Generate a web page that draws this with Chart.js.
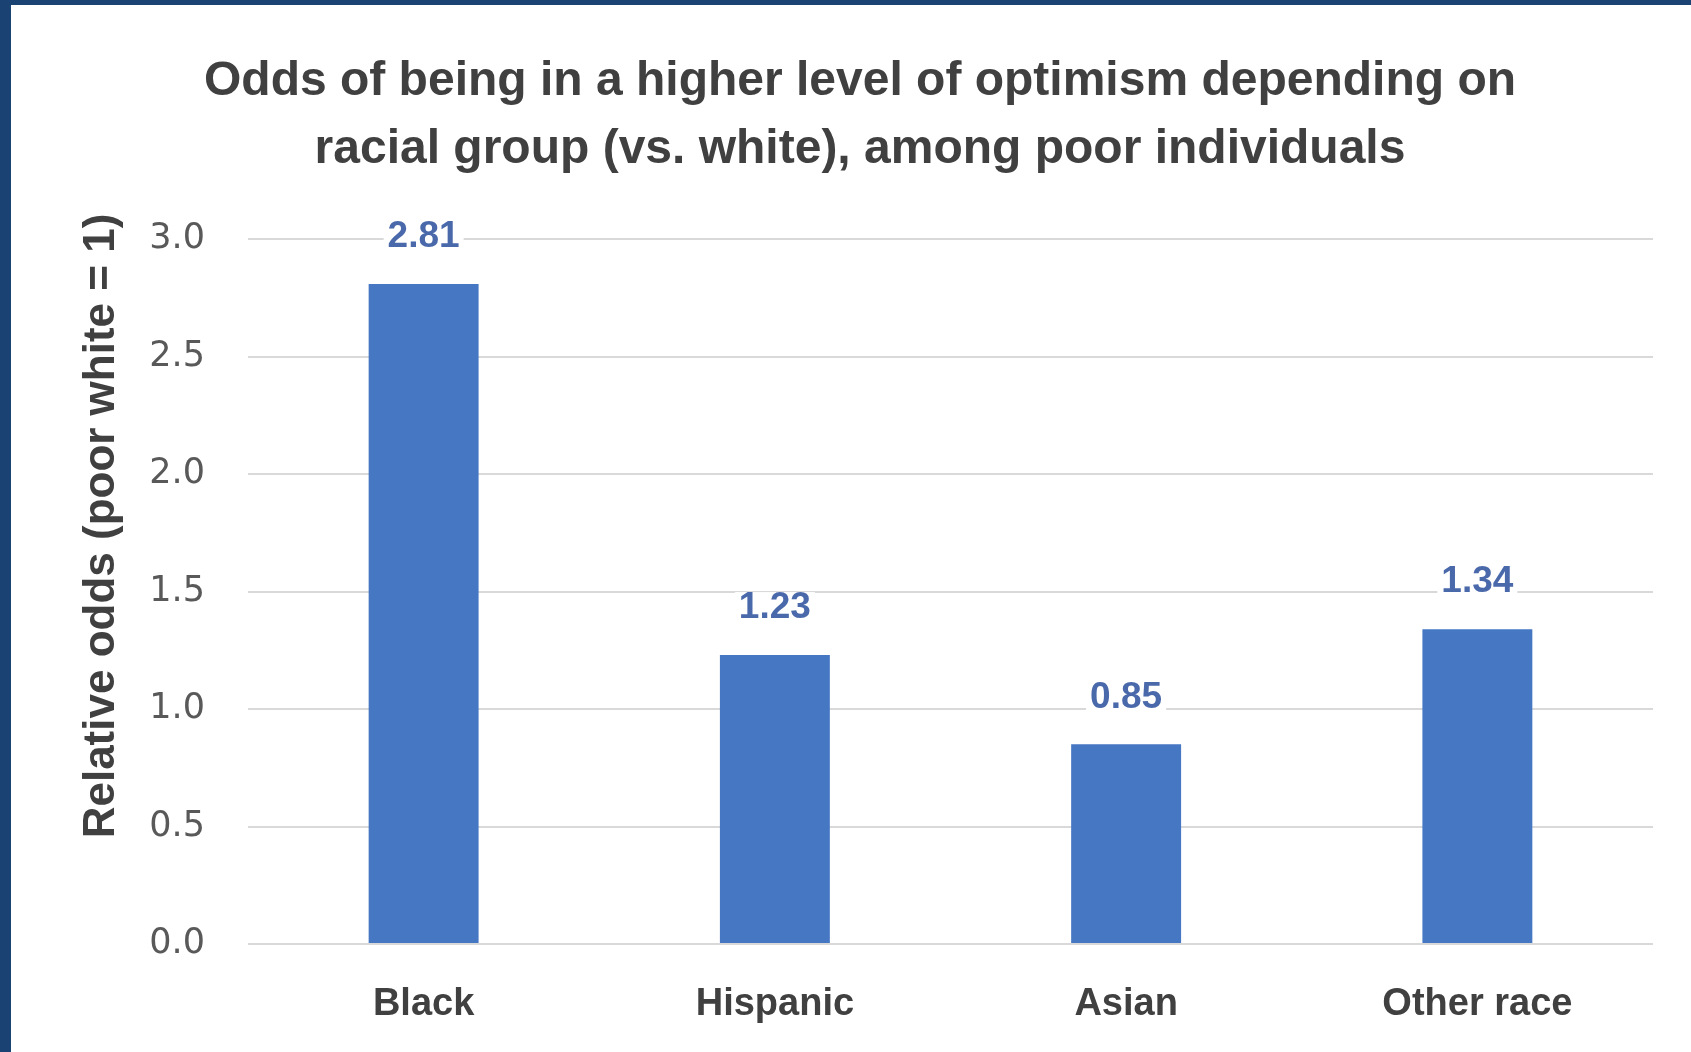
<!DOCTYPE html>
<html>
<head>
<meta charset="utf-8">
<script src="https://cdn.jsdelivr.net/npm/chart.js@4.4.1/dist/chart.umd.min.js"></script>
<style>
  html, body { margin: 0; padding: 0; background: #1a4272; overflow: hidden; }
  #wrap { position: absolute; left: 11px; top: 5px; width: 1680px; height: 1047px; background: #ffffff; }
</style>
</head>
<body>
<div id="wrap"><canvas id="chart" width="1680" height="1047"></canvas></div>
<script>
const categories = ['Black', 'Hispanic', 'Asian', 'Other race'];
const odds = [2.81, 1.23, 0.85, 1.34];
const yTicks = [0, 0.5, 1.0, 1.5, 2.0, 2.5, 3.0];
const titleLines = ['Odds of being in a higher level of optimism depending on', 'racial group (vs. white), among poor individuals'];
const yTitle = 'Relative odds (poor white = 1)';

// value labels above bars + rotated y title
const labelPlugin = {
    id: 'labelPlugin',
    afterDatasetsDraw(chart) {
        const ctx = chart.ctx;
        const meta = chart.getDatasetMeta(0);
        ctx.save();
        ctx.font = 'bold 37px "Liberation Sans", Arial, sans-serif';
        ctx.textAlign = 'center';
        ctx.textBaseline = 'middle';
        meta.data.forEach((bar, i) => {
            const txt = odds[i].toFixed(2);
            const y = bar.y - 47;
            const w = ctx.measureText(txt).width;
            ctx.fillStyle = '#ffffff';
            ctx.fillRect(bar.x - w / 2 - 4, y - 16, w + 8, 32);
            ctx.fillStyle = '#4a69ab';
            ctx.fillText(txt, bar.x, y);
        });
        ctx.restore();
    },
    afterDraw(chart) {
        const ctx = chart.ctx;
        ctx.save();
        ctx.translate(91, 521);
        ctx.rotate(-Math.PI / 2);
        ctx.font = 'bold 44px "Liberation Sans", Arial, sans-serif';
        ctx.fillStyle = '#404040';
        ctx.textAlign = 'center';
        ctx.textBaseline = 'middle';
        ctx.fillText(yTitle, 0, 0);
        ctx.restore();
    }
};

const ctx = document.getElementById('chart').getContext('2d');
new Chart(ctx, {
    type: 'bar',
    data: {
        labels: categories,
        datasets: [{
            data: odds,
            backgroundColor: '#4677c3',
            borderWidth: 0,
            categoryPercentage: 1.0,
            barPercentage: 0.313
        }]
    },
    options: {
        responsive: false,
        animation: false,
        layout: { padding: { left: 56, right: 38, top: 0, bottom: 0 } },
        plugins: {
            legend: { display: false },
            tooltip: { enabled: false },
            title: {
                display: true,
                text: titleLines,
                color: '#404040',
                font: { family: '"Liberation Sans", Arial, sans-serif', size: 48, weight: 'bold', lineHeight: 1.42 },
                padding: { top: 43, bottom: 55 }
            }
        },
        scales: {
            x: {
                grid: { display: false },
                border: { display: false },
                ticks: {
                    color: '#404040',
                    padding: 30,
                    font: { family: '"Liberation Sans", Arial, sans-serif', size: 38, weight: 'bold' }
                },
                afterFit(scale) { scale.height = 108; }
            },
            y: {
                min: 0,
                max: 3,
                afterBuildTicks(scale) { scale.ticks = yTicks.map(v => ({ value: v })); },
                grid: { color: '#d9d9d9', lineWidth: 2, drawTicks: false },
                border: { display: false },
                ticks: {
                    color: '#595959',
                    padding: 43,
                    font: { family: '"DejaVu Sans", sans-serif', size: 35 },
                    callback: v => v.toFixed(1)
                },
                afterFit(scale) { scale.width = 181; }
            }
        }
    },
    plugins: [labelPlugin]
});
</script>
</body>
</html>
